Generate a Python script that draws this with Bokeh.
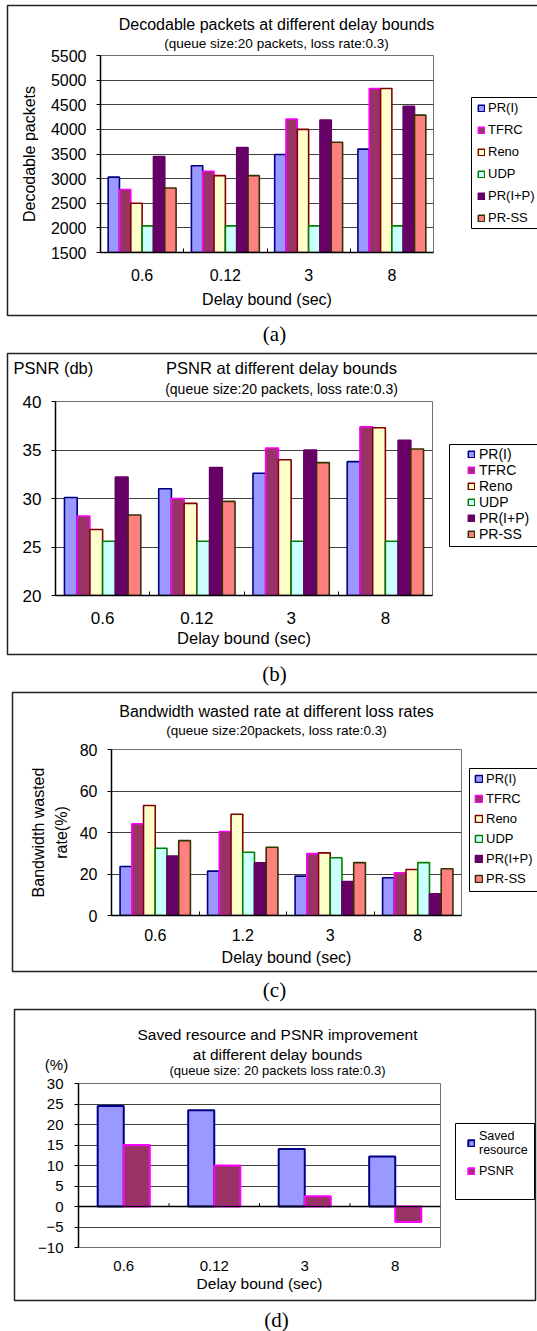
from bokeh.plotting import figure
from bokeh.models import FixedTicker, Legend, LegendItem, Label, Span, BoxAnnotation
from bokeh.layouts import column
from bokeh.embed import file_html
from bokeh.resources import INLINE

# ---------------- data ----------------
delays_abd = ["0.6", "0.12", "3", "8"]
delays_c = ["0.6", "1.2", "3", "8"]
series_names = ["PR(I)", "TFRC", "Reno", "UDP", "PR(I+P)", "PR-SS"]

# (a) decodable packets
dec_pr_i = [3030, 3260, 3490, 3600]
dec_tfrc = [2780, 3150, 4210, 4830]
dec_reno = [2500, 3060, 4000, 4830]
dec_udp = [2040, 2040, 2040, 2040]
dec_pr_ip = [3450, 3630, 4190, 4470]
dec_pr_ss = [2810, 3060, 3740, 4290]

# (b) PSNR (db)
psnr_pr_i = [30.1, 31.0, 32.6, 33.8]
psnr_tfrc = [28.2, 30.0, 35.2, 37.4]
psnr_reno = [26.8, 29.5, 34.0, 37.3]
psnr_udp = [25.6, 25.6, 25.6, 25.6]
psnr_pr_ip = [32.2, 33.2, 35.0, 36.0]
psnr_pr_ss = [28.3, 29.7, 33.7, 35.1]

# (c) bandwidth wasted rate (%)
bw_pr_i = [23.6, 21.4, 19.0, 18.2]
bw_tfrc = [44.2, 40.5, 29.8, 20.6]
bw_reno = [53.0, 48.8, 30.2, 22.2]
bw_udp = [32.4, 30.5, 27.8, 25.5]
bw_pr_ip = [28.6, 25.4, 16.4, 10.4]
bw_pr_ss = [36.1, 32.9, 25.5, 22.5]

# (d) saved resource / PSNR improvement (%)
saved_names = ["Saved\nresource", "PSNR"]
saved_resource = [24.5, 23.5, 14.0, 12.2]
psnr_improve = [15.0, 10.0, 2.5, -3.8]

yticks_a = [1500, 2000, 2500, 3000, 3500, 4000, 4500, 5000, 5500]
yticks_b = [20, 25, 30, 35, 40]
yticks_c = [0, 20, 40, 60, 80]
yticks_d = [-10, -5, 0, 5, 10, 15, 20, 25, 30]

# ---------------- styles ----------------
FONT = "Liberation Sans"
SERIF = "Liberation Serif"
FILLS = ["#9999FF", "#993366", "#FFFFCC", "#CCFFFF", "#660066", "#FF8080"]
LINES = ["#000080", "#FF00FF", "#800000", "#008000", "#660066", "#333300"]
PAGE_W, PAGE_H = 537, 1331
NAN = float("nan")


def make_panel(width, height, fl, ft, fw, fh, y0, y1):
    p = figure(width=width, height=height, x_range=(0.5, 4.5), y_range=(y0, y1),
               output_backend="svg", toolbar_location=None,
               min_border_left=fl, min_border_top=ft,
               min_border_right=width - fl - fw, min_border_bottom=height - ft - fh,
               background_fill_color="white", border_fill_alpha=0.0,
               outline_line_color="#707070", outline_line_width=1)
    p.xgrid.visible = False
    p.ygrid.grid_line_color = "#404040"
    p.ygrid.grid_line_width = 1
    return p


def style_axes(p, cats, yticks, gticks, tick_fs, lab_fs, xlabel, ylabel,
               xs, xls, ys, yls, boundary=True):
    centers = list(range(1, len(cats) + 1))
    xa = p.xaxis[0]
    xa.ticker = FixedTicker(ticks=centers,
                            minor_ticks=[c + 0.5 for c in centers[:-1]] if boundary else [])
    xa.major_label_overrides = {c: lab for c, lab in zip(centers, cats)}
    xa.major_tick_in = 0
    xa.major_tick_out = 0
    xa.minor_tick_in = 4
    xa.minor_tick_out = 0
    xa.minor_tick_line_color = "black"
    xa.axis_line_color = "black" if boundary else None
    xa.axis_line_width = 1.5
    xa.major_label_text_font = FONT
    xa.major_label_text_font_size = tick_fs
    xa.major_label_text_color = "black"
    xa.major_label_standoff = xs
    xa.axis_label = xlabel
    xa.axis_label_text_font = FONT
    xa.axis_label_text_font_size = lab_fs
    xa.axis_label_text_font_style = "normal"
    xa.axis_label_text_color = "black"
    xa.axis_label_standoff = xls

    ya = p.yaxis[0]
    ya.ticker = FixedTicker(ticks=yticks)
    ya.major_tick_in = 0
    ya.major_tick_out = 4
    ya.major_tick_line_color = "black"
    ya.minor_tick_line_color = None
    ya.axis_line_color = "black"
    ya.axis_line_width = 1.5
    ya.major_label_text_font = FONT
    ya.major_label_text_font_size = tick_fs
    ya.major_label_text_color = "black"
    ya.major_label_standoff = ys
    if ylabel:
        ya.axis_label = ylabel
        ya.axis_label_text_font = FONT
        ya.axis_label_text_font_size = lab_fs
        ya.axis_label_text_font_style = "normal"
        ya.axis_label_text_color = "black"
        ya.axis_label_standoff = yls
        ya.axis_label_text_line_height = 1.35
    p.ygrid.ticker = FixedTicker(ticks=gticks)


def add_bars(p, values_list, base, width, fills, lines, lw):
    n = len(values_list)
    for k, vals in enumerate(values_list):
        xs = [i + 1 + (k - (n - 1) / 2) * width for i in range(len(vals))]
        p.vbar(x=xs, top=vals, bottom=base, width=width,
               fill_color=fills[k], line_color=lines[k], line_width=lw)


# ---------------- decoration layer (page coordinates) ----------------
deco = figure(width=PAGE_W, height=PAGE_H, x_range=(0, PAGE_W), y_range=(PAGE_H, 0),
              output_backend="svg", toolbar_location=None, min_border=0,
              x_axis_location=None, y_axis_location=None,
              outline_line_color=None, background_fill_color="white",
              border_fill_color="white")
deco.grid.visible = False


def box(l, r, t, b, color="#222222", lw=1.5):
    deco.add_layout(BoxAnnotation(left=l, right=r, top=t, bottom=b, fill_alpha=0.0,
                                  line_color=color, line_alpha=1.0, line_width=lw,
                                  level="overlay"))


def txt(x, y, text, size, align="center", font=FONT):
    deco.add_layout(Label(x=x, y=y, text=text, text_font=font, text_font_size=size,
                          text_align=align, text_baseline="middle", text_color="black"))


def legend(names, fills, lines, frame, glyph_left, top, bottom, font_size, label_height,
           spacing, glyph=8, standoff=4, lw=1.5, line_height=1.2):
    box(*frame, color="black", lw=1)
    # legend keys only (a single undefined point each, so nothing is drawn on the page)
    keys = [deco.vbar(x=[NAN], top=[NAN], bottom=[NAN], width=0.5,
                      fill_color=f, line_color=l, line_width=lw)
            for f, l in zip(fills, lines)]
    deco.add_layout(Legend(
        items=[LegendItem(label=n, renderers=[r]) for n, r in zip(names, keys)],
        location=(glyph_left, PAGE_H - bottom), orientation="vertical",
        border_line_color=None, background_fill_alpha=0.0,
        label_text_font=FONT, label_text_font_size=font_size, label_text_color="black",
        label_text_line_height=line_height,
        glyph_width=glyph, glyph_height=glyph, label_height=label_height,
        spacing=spacing, padding=0, margin=0, label_standoff=standoff))


# (a)
box(7, 545, 5, 315)
txt(276, 24, "Decodable packets at different delay bounds", "16px")
txt(276, 43, "(queue size:20 packets, loss rate:0.3)", "13.5px")
legend(series_names, FILLS, LINES, (471, 545, 97, 228), 477, 100, 225, "13px", 15, 7,
       glyph=8, standoff=3)
txt(274, 333, "(a)", "21px", font=SERIF)
# (b)
box(7, 545, 353, 654)
txt(13, 367, "PSNR (db)", "16.5px", align="left")
txt(281, 367, "PSNR at different delay bounds", "16.5px")
txt(281, 388, "(queue size:20 packets, loss rate:0.3)", "14px")
legend(series_names, FILLS, LINES, (449, 545, 444, 546), 467, 446, 542, "14px", 16, 0,
       glyph=8, standoff=4)
txt(274, 673, "(b)", "21px", font=SERIF)
# (c)
box(12, 545, 692, 971)
txt(276, 711, "Bandwidth wasted rate at different loss rates", "16px")
txt(276, 730, "(queue size:20packets, loss rate:0.3)", "13.5px")
legend(series_names, FILLS, LINES, (469, 545, 768, 891), 474, 771, 886, "13px", 15, 5,
       glyph=9, standoff=3)
txt(274, 989, "(c)", "21px", font=SERIF)
# (d)
box(14, 535, 1009, 1300)
txt(277, 1034, "Saved resource and PSNR improvement", "15.5px")
txt(277, 1054, "at different delay bounds", "15.5px")
txt(277, 1070, "(queue size: 20 packets loss rate:0.3)", "13px")
txt(56, 1064, "(%)", "15px")
legend(saved_names, FILLS[:2], LINES[:2], (455, 534, 1123, 1199), 467, 1127, 1178,
       "12.5px", 14, 7, glyph=8, standoff=4, lw=2, line_height=1.28)
txt(276, 1319, "(d)", "21px", font=SERIF)

# ---------------- panel (a) ----------------
pa = make_panel(PAGE_W, 353, 100, 55, 333, 197, yticks_a[0], yticks_a[-1])
style_axes(pa, delays_abd, yticks_a, yticks_a[1:-1], "16px", "16px",
           "Delay bound (sec)", "Decodable packets", 16, 7, 10, 10)
add_bars(pa, [dec_pr_i, dec_tfrc, dec_reno, dec_udp, dec_pr_ip, dec_pr_ss],
         yticks_a[0], 0.136, FILLS, LINES, 1.6)

# ---------------- panel (b) ----------------
pb = make_panel(PAGE_W, 339, 55, 48, 377, 194, yticks_b[0], yticks_b[-1])
style_axes(pb, delays_abd, yticks_b, yticks_b[1:-1], "17px", "16.5px",
           "Delay bound (sec)", None, 16, 2, 10, 10)
add_bars(pb, [psnr_pr_i, psnr_tfrc, psnr_reno, psnr_udp, psnr_pr_ip, psnr_pr_ss],
         yticks_b[0], 0.135, FILLS, LINES, 1.6)

# ---------------- panel (c) ----------------
pc = make_panel(PAGE_W, 317, 111, 57, 350, 166, yticks_c[0], yticks_c[-1])
style_axes(pc, delays_c, yticks_c, yticks_c[1:-1], "16px", "16px",
           "Delay bound (sec)", "Bandwidth wasted\nrate(%)", 13, 5, 10, 7)
add_bars(pc, [bw_pr_i, bw_tfrc, bw_reno, bw_udp, bw_pr_ip, bw_pr_ss],
         yticks_c[0], 0.134, FILLS, LINES, 1.6)

# ---------------- panel (d) ----------------
pd_ = make_panel(PAGE_W, 322, 78, 74, 362, 164, yticks_d[0], yticks_d[-1])
style_axes(pd_, delays_abd, yticks_d, yticks_d[1:-1], "15px", "15.5px",
           "Delay bound (sec)", None, 13, 1, 11, 10, boundary=False)
add_bars(pd_, [saved_resource, psnr_improve], 0, 0.288,
         [FILLS[0], FILLS[1]], [LINES[0], LINES[1]], 2)
pd_.add_layout(Span(location=0, dimension="width", line_color="black", line_width=1.5))
bounds_d = [c + 1.5 for c in range(len(delays_abd) - 1)]
pd_.segment(x0=bounds_d, y0=[0] * len(bounds_d), x1=bounds_d, y1=[0.8] * len(bounds_d),
            line_color="black", line_width=1)

# each chart in its own container so that no frame alignment happens between them
charts = column(column(pa), column(pb), column(pc), column(pd_),
                spacing=0, margin=(-PAGE_H, 0, 0, 0))
layout = column(deco, charts, spacing=0)

open("out.html", "w").write(file_html(layout, INLINE))
